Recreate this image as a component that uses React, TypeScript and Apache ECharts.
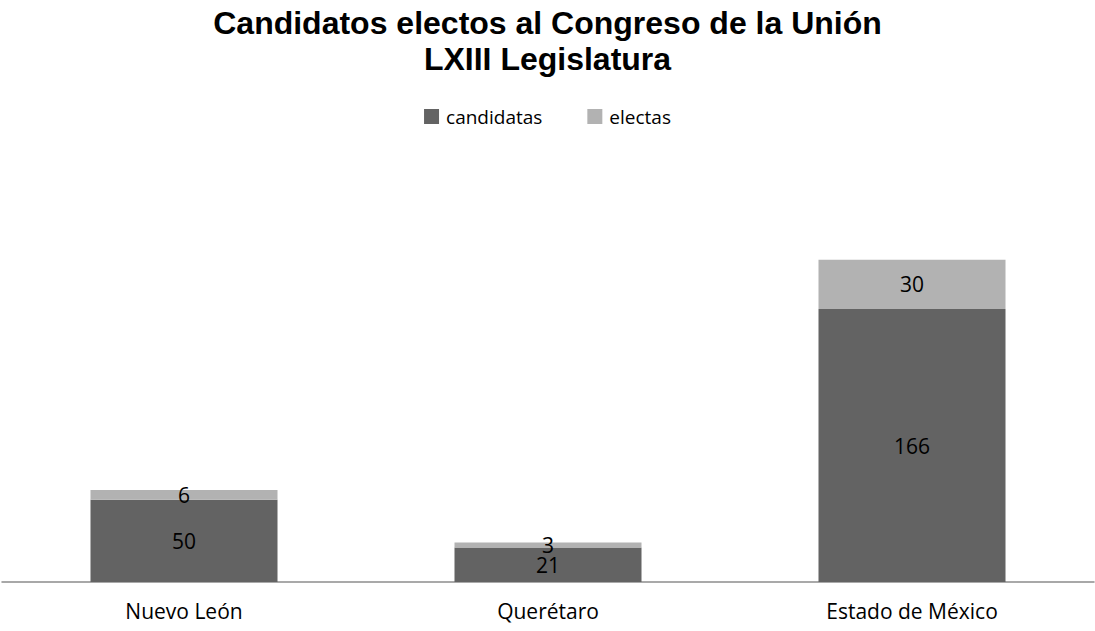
import React, { useEffect, useRef } from "react";
import * as echarts from "echarts";

const categories = ["Nuevo León", "Querétaro", "Estado de México"];
const candidatas = [50, 21, 166];
const electas = [6, 3, 30];
const seriesNames = ["candidatas", "electas"];
const titleLines = ["Candidatos electos al Congreso de la Unión", "LXIII Legislatura"];

export default function App() {
  const ref = useRef<HTMLDivElement>(null);
  useEffect(() => {
    if (!ref.current) return;
    const chart = echarts.init(ref.current, null, { renderer: "svg" });
    const labelStyle = {
      show: true,
      position: "inside",
      color: "#000000",
      fontFamily: "Open Sans",
      fontSize: 21,
    };
    chart.setOption({
      animation: false,
      backgroundColor: "#ffffff",
      title: {
        text: titleLines.join("\n"),
        left: "center",
        top: 0,
        textStyle: {
          fontFamily: "Liberation Sans",
          fontWeight: "bold",
          fontSize: 32,
          lineHeight: 36,
          color: "#000000",
        },
      },
      legend: {
        data: seriesNames,
        top: 102,
        left: "center",
        itemWidth: 15,
        itemHeight: 15,
        itemGap: 45,
        icon: "rect",
        textStyle: { fontFamily: "Open Sans", fontSize: 19, color: "#000000", padding: [0, 0, 0, 2] },
      },
      grid: { left: 2, right: 1, top: 171, bottom: 49, containLabel: false },
      xAxis: {
        type: "category",
        data: categories,
        axisLine: { lineStyle: { color: "#8c8c8c", width: 1.5 } },
        axisTick: { show: false },
        axisLabel: {
          fontFamily: "Open Sans",
          fontSize: 21,
          color: "#000000",
          margin: 18,
        },
      },
      yAxis: {
        type: "value",
        min: 0,
        max: 250,
        show: false,
        splitLine: { show: false },
      },
      series: [
        {
          name: seriesNames[0],
          type: "bar",
          stack: "total",
          data: candidatas,
          barWidth: 187,
          itemStyle: { color: "#636363" },
          label: labelStyle,
        },
        {
          name: seriesNames[1],
          type: "bar",
          stack: "total",
          data: electas,
          barWidth: 187,
          itemStyle: { color: "#b2b2b2" },
          label: labelStyle,
        },
      ],
    });
    return () => chart.dispose();
  }, []);
  return (
    <div
      ref={ref}
      style={{ position: "fixed", left: 0, top: 0, width: 1095, height: 631 }}
    />
  );
}
